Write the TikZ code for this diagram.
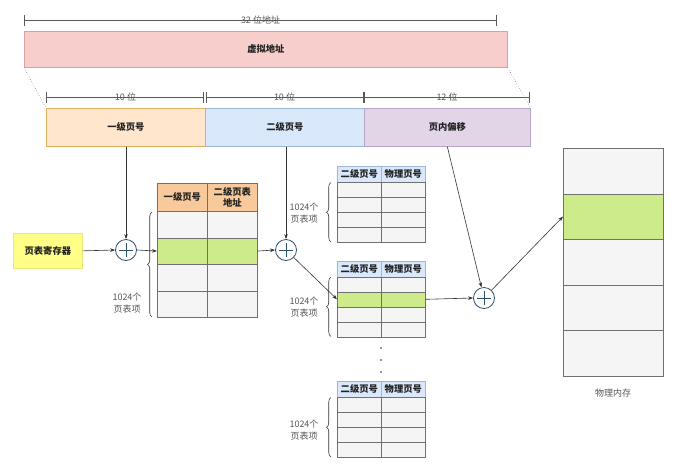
\documentclass[tikz,border=0pt]{standalone}
\usepackage{fontspec}
\setmainfont{Noto Sans CJK SC}
\usetikzlibrary{arrows.meta,decorations.pathreplacing,calc}
\definecolor{pinkf}{HTML}{F8CECC}
\definecolor{pinkd}{HTML}{D9A3A0}
\definecolor{orf}{HTML}{FFE6CC}
\definecolor{ord}{HTML}{E0B060}
\definecolor{bluf}{HTML}{DAE8FC}
\definecolor{blud}{HTML}{9DB5D8}
\definecolor{purf}{HTML}{E1D5E7}
\definecolor{purd}{HTML}{B8A4C4}
\definecolor{yelf}{HTML}{FFFF88}
\definecolor{yeld}{HTML}{E6E67A}
\definecolor{hdrf}{HTML}{F7C99B}
\definecolor{cellf}{HTML}{F5F5F5}
\definecolor{gridc}{HTML}{707070}
\definecolor{greenf}{HTML}{CDEB8B}
\definecolor{plusc}{HTML}{2F4F6F}
\definecolor{linec}{HTML}{333333}
\definecolor{txt}{HTML}{222222}
\definecolor{ltxt}{HTML}{555555}
\newcommand{\fsz}{\fontsize{9.3}{11}\selectfont}
\newcommand{\fsr}{\fontsize{9}{11.5}\selectfont}
\begin{document}
\begin{tikzpicture}[x=1pt,y=-1pt,
  box/.style={draw, inner sep=0pt, anchor=north west, align=center, font=\bfseries\fsz, text=txt, line width=0.7pt},
  cell/.style={draw=gridc, inner sep=0pt, anchor=north west, line width=0.6pt},
  hcell/.style={cell, align=center, font=\bfseries\fsz, text=txt},
  plusnode/.style={circle, draw=plusc, fill=white, line width=0.8pt, minimum size=21pt, inner sep=0pt,
    path picture={\draw[plusc, line width=0.8pt]
      ([xshift=-7pt]path picture bounding box.center) -- ([xshift=7pt]path picture bounding box.center)
      ([yshift=-7pt]path picture bounding box.center) -- ([yshift=7pt]path picture bounding box.center);}},
  arr/.style={-{Stealth[length=5pt,width=3.6pt]}, draw=linec, line width=0.6pt},
  dim/.style={draw=gray!70!black, line width=0.7pt, {Bar[width=11pt]}-{Bar[width=11pt]}},
  dimlbl/.style={font=\fsr, text=ltxt, inner sep=0pt},
  lbl/.style={font=\fsr, text=ltxt, align=center, inner sep=0pt},
  brc/.style={decorate, decoration={brace, amplitude=4.5pt}, draw=linec, line width=0.6pt}
]
\useasboundingbox (0,0) rectangle (682,472);

% top dimension
\coordinate (d0) at (24,20);
\coordinate (d1) at (497,20);
\draw[dim] (d0) -- (d1);
\node[dimlbl] (dl0) at ($(d0)!0.5!(d1)$) {32 位地址};

% virtual address
\node[box, fill=pinkf, draw=pinkd, minimum width=483pt, minimum height=36pt] (va) at (24,31) {虚拟地址};

% field boxes
\node[box, fill=orf, draw=ord, minimum width=159pt, minimum height=38pt] (f1) at (46,108) {一级页号};
\node[box, fill=bluf, draw=blud, minimum width=159pt, minimum height=38pt] (f2) at (205,108) {二级页号};
\node[box, fill=purf, draw=purd, minimum width=166pt, minimum height=38pt] (f3) at (364,108) {页内偏移};

\draw[gray, dotted, line width=0.6pt] (va.south west) -- (f1.north west);
\draw[gray, dotted, line width=0.6pt] (va.south east) -- (f3.north east);

% lower dimensions
\coordinate (e0) at (46,97);
\coordinate (e1) at (205,97);
\coordinate (e2) at (364,97);
\coordinate (e3) at (530,97);
\draw[dim] (e0) -- ([xshift=-1pt]e1);
\draw[dim] ([xshift=1pt]e1) -- (e2);
\draw[dim] (e2) -- (e3);
\node[dimlbl] (el1) at ($(e0)!0.5!(e1)$) {10 位};
\node[dimlbl] (el2) at ($(e1)!0.5!(e2)$) {10 位};
\node[dimlbl] (el3) at ($(e2)!0.5!(e3)$) {12 位};

% page table register
\node[box, fill=yelf, draw=yeld, minimum width=69pt, minimum height=35pt] (reg) at (13,233) {页表寄存器};

% plus nodes
\node[plusnode] (p1) at (126,250) {};
\node[plusnode] (p2) at (286,250) {};
\node[plusnode] (p3) at (484,298) {};

% first-level table
\node[hcell, fill=hdrf, draw=gridc, minimum width=50pt, minimum height=28pt] (t1h1) at (157,183) {一级页号};
\node[hcell, fill=hdrf, draw=gridc, minimum width=50pt, minimum height=28pt] (t1h2) at (207,183) {二级页表\\地址};
\foreach \i/\y/\c in {1/211/cellf,2/237.5/greenf,3/264/cellf,4/290.5/cellf}{
  \node[cell, fill=\c, minimum width=50pt, minimum height=26.5pt] (t1r\i-a) at (157,\y) {};
  \node[cell, fill=\c, minimum width=50pt, minimum height=26.5pt] (t1r\i-b) at (207,\y) {};
}
\draw[brc] (152,317) -- (152,212);
\node[lbl] (t1l) at (127,303) {1024个\\页表项};

% second-level tables
\foreach \T/\top/\g/\ly in {A/166/0/213,B/260.5/2/307,C/381/0/430}{
  \node[hcell, fill=bluf, draw=blud, minimum width=44pt, minimum height=16pt] (\T h1) at (337,\top) {二级页号};
  \node[hcell, fill=bluf, draw=blud, minimum width=44pt, minimum height=16pt] (\T h2) at (381,\top) {物理页号};
  \foreach \i in {1,...,4}{
    \pgfmathsetmacro\ry{\top+16+15*(\i-1)}
    \def\cc{cellf}
    \ifnum\i=\g \def\cc{greenf}\fi
    \node[cell, fill=\cc, minimum width=44pt, minimum height=15pt] (\T r\i-a) at (337,\ry) {};
    \node[cell, fill=\cc, minimum width=44pt, minimum height=15pt] (\T r\i-b) at (381,\ry) {};
  }
  \pgfmathsetmacro\bt{\top+16.5}
  \pgfmathsetmacro\bb{\top+76}
  \draw[brc] (331,\bb) -- (331,\bt);
  \node[lbl] (\T l) at (304,\ly) {1024个\\页表项};
}

% dots
\fill[linec] (381,348) circle (0.9pt);
\fill[linec] (381,360) circle (0.9pt);
\fill[linec] (381,372) circle (0.9pt);

% physical memory
\foreach \i/\y/\c in {1/148/cellf,2/193.5/greenf,3/239/cellf,4/284.5/cellf,5/330/cellf}{
  \node[cell, fill=\c, minimum width=100pt, minimum height=45.5pt] (m\i) at (563,\y) {};
}
\node[lbl] (ml) at (613,393) {物理内存};

% connectors
\draw[arr] (p1 |- f1.south) -- (p1.north);
\draw[arr] (reg.east) -- (p1.west);
\draw[arr] (p1.east) -- (t1r2-a.west);
\draw[arr] (t1r2-b.east) -- (p2.west);
\draw[arr] (p2 |- f2.south) -- (p2.north);
\draw[arr] (p2) -- (Br2-a.west);
\draw[arr] (Br2-b.east) -- (p3.west);
\draw[arr] (f3.south) -- (p3);
\draw[arr] (p3) -- (m2.west);
\end{tikzpicture}
\end{document}
